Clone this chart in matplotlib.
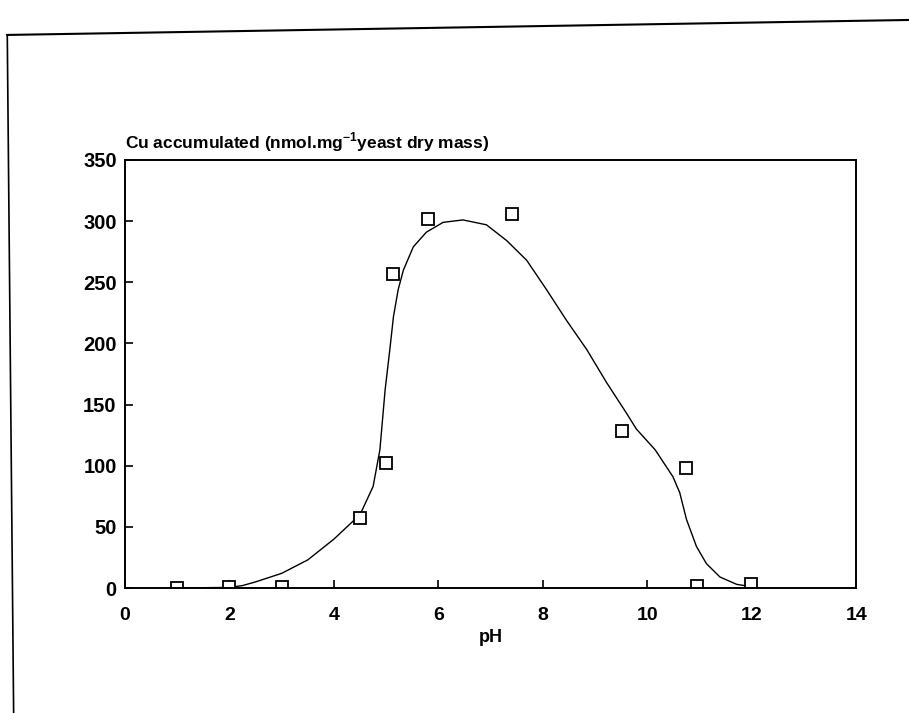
import matplotlib
matplotlib.use("Agg")
import matplotlib.pyplot as plt
from matplotlib.lines import Line2D

# measured points (pH, Cu accumulated)
ph = [1, 2, 3, 4.5, 5.0, 5.13, 5.8, 7.4, 9.52, 10.74, 10.96, 11.98]
cu = [0, 1, 1, 57, 102, 257, 302, 306, 128, 98, 2, 3]

# fitted curve
curve_ph = [1, 2, 2.25, 2.5, 3, 3.5, 4, 4.5, 4.75, 4.88, 4.98, 5.07, 5.14, 5.23,
            5.33, 5.52, 5.77, 6.09, 6.47, 6.92, 7.31, 7.69, 8.07, 8.45, 8.84,
            9.22, 9.60, 9.79, 10.15, 10.49, 10.62, 10.75, 10.94, 11.13, 11.39,
            11.71, 12.0]
curve_cu = [0, 0.5, 2, 5, 12, 23, 40, 60, 83, 113, 162, 195, 222, 244,
            260, 279, 291, 299, 301, 297, 284, 268, 244, 219, 195,
            168, 143, 130, 113, 91, 78, 56, 34, 20, 9,
            3, 1]

xticks = [0, 2, 4, 6, 8, 10, 12, 14]
yticks = [0, 50, 100, 150, 200, 250, 300, 350]

plt.rcParams['font.family'] = ['Liberation Sans', 'DejaVu Sans']
plt.rcParams['mathtext.fontset'] = 'custom'
plt.rcParams['mathtext.rm'] = 'Liberation Sans:bold'
plt.rcParams['mathtext.bf'] = 'Liberation Sans:bold'

fig = plt.figure(figsize=(9.09, 7.13), dpi=100)
ax = fig.add_axes([0.1375, 0.1753, 0.8045, 0.6003])

ax.plot(curve_ph, curve_cu, color='black', lw=1.0)
ax.plot(ph, cu, linestyle='none', marker='s', markersize=8,
        markerfacecolor='white', markeredgecolor='black', markeredgewidth=1.3)

ax.set_xlim(0, 14)
ax.set_ylim(0, 350)
ax.set_xticks(xticks)
ax.set_yticks(yticks)
ax.tick_params(direction='in', length=6, width=1.2, top=False, right=False)
ax.tick_params(axis='x', pad=14, labelsize=14)
ax.tick_params(axis='y', pad=6, labelsize=14.5)
for lab in ax.get_xticklabels() + ax.get_yticklabels():
    lab.set_fontweight('bold')
for s in ax.spines.values():
    s.set_linewidth(1.4)

ax.set_xlabel("pH", fontsize=13, fontweight='bold', labelpad=3)
ax.text(0, 1.014, r"Cu accumulated (nmol.mg$^{\mathrm{-1}}$yeast dry mass)",
        transform=ax.transAxes, fontsize=12.5, fontweight='bold',
        ha='left', va='bottom')

# outer frame of the scanned figure
fig.add_artist(Line2D([0.008, 1.0], [0.951, 0.972], color='black', lw=1.5,
                      transform=fig.transFigure))
fig.add_artist(Line2D([0.008, 0.015], [0.951, 0.0], color='black', lw=1.2,
                      transform=fig.transFigure))

plt.savefig("out.png", dpi=100)
